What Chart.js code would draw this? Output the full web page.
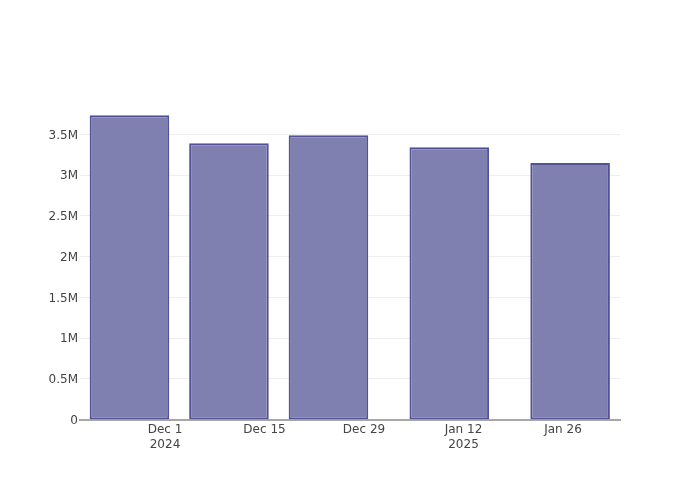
<!DOCTYPE html>
<html>
<head>
<meta charset="utf-8">
<script src="https://cdn.jsdelivr.net/npm/chart.js@4/dist/chart.umd.min.js"></script>
<style>
  html, body { margin: 0; padding: 0; background: #fff; }
  #wrap { width: 700px; height: 500px; }
</style>
</head>
<body>
<div id="wrap"><canvas id="myChart" width="700" height="500"></canvas></div>
<script>
  // Data
  var barDates = ['2024-11-26', '2024-12-10', '2024-12-24', '2025-01-10', '2025-01-27'];
  var barValues = [3737000, 3393000, 3491000, 3344000, 3151000];
  var xTickDates = ['2024-12-01', '2024-12-15', '2024-12-29', '2025-01-12', '2025-01-26'];
  var xTickLabels = [['Dec 1', '2024'], 'Dec 15', 'Dec 29', ['Jan 12', '2025'], 'Jan 26'];
  var yTickValues = [0, 500000, 1000000, 1500000, 2000000, 2500000, 3000000, 3500000];
  var yTickLabels = ['0', '0.5M', '1M', '1.5M', '2M', '2.5M', '3M', '3.5M'];

  var DAY = 86400000;
  var origin = Date.UTC(2024, 11, 1);
  function dayOf(s) {
    var p = s.split('-');
    return (Date.UTC(+p[0], +p[1] - 1, +p[2]) - origin) / DAY;
  }

  var points = barDates.map(function (d, i) {
    return { x: dayOf(d), y: barValues[i] };
  });
  var xTicks = xTickDates.map(dayOf);

  var font = { family: '"DejaVu Sans", sans-serif', size: 12, lineHeight: 1.25 };

  new Chart(document.getElementById('myChart').getContext('2d'), {
    type: 'bar',
    data: {
      datasets: [{
        data: points,
        backgroundColor: 'rgba(127, 127, 176, 1)',
        borderColor: 'rgba(82, 82, 152, 1)',
        borderWidth: 2,
        borderSkipped: false,
        categoryPercentage: 1,
        barPercentage: 0.8
      }]
    },
    options: {
      responsive: false,
      animation: false,
      devicePixelRatio: 1,
      layout: { padding: { left: 0, right: 80, top: 100, bottom: 0 } },
      plugins: {
        legend: { display: false },
        tooltip: { enabled: false }
      },
      scales: {
        x: {
          type: 'linear',
          offset: false,
          min: -11.96,
          max: 64.02,
          grid: { display: false, drawTicks: false, offset: false },
          border: { display: true, color: '#a8a8a8', width: 2 },
          afterBuildTicks: function (scale) {
            scale.ticks = xTicks.map(function (v) { return { value: v }; });
          },
          afterFit: function (scale) { scale.height = 80.5; },
          ticks: {
            color: '#444',
            font: font,
            padding: 3,
            maxRotation: 0,
            autoSkip: false,
            callback: function (v) {
              var i = xTicks.indexOf(v);
              return i >= 0 ? xTickLabels[i] : '';
            }
          }
        },
        y: {
          min: 0,
          max: 3925000,
          grid: { color: '#eeeeee', drawTicks: false, lineWidth: function (ctx) { return ctx.tick && ctx.tick.value === 0 ? 0 : 1; } },
          border: { display: false },
          afterBuildTicks: function (scale) {
            scale.ticks = yTickValues.map(function (v) { return { value: v }; });
          },
          afterFit: function (scale) { scale.width = 80; },
          ticks: {
            color: '#444',
            font: font,
            padding: 2,
            labelOffset: 1,
            callback: function (v) {
              var i = yTickValues.indexOf(v);
              return i >= 0 ? yTickLabels[i] : '';
            }
          }
        }
      }
    }
  });
</script>
</body>
</html>
